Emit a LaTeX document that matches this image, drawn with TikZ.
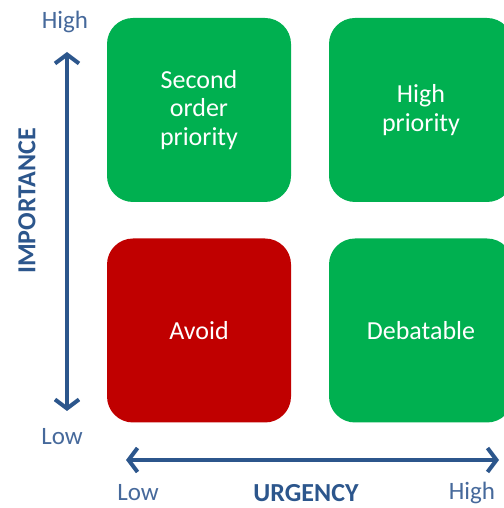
\documentclass[tikz,border=0pt]{standalone}
\usepackage{fontspec}
\setmainfont{Carlito}
\usepackage{tikz}
\usetikzlibrary{arrows.meta,positioning}
\definecolor{boxgreen}{RGB}{0,176,80}
\definecolor{boxred}{RGB}{192,0,0}
\definecolor{axisblue}{RGB}{44,86,140}
\definecolor{labelblue}{RGB}{70,105,155}

\begin{document}
\begin{tikzpicture}[
x=1pt, y=1pt,
quad/.style={
	rectangle, rounded corners=26pt,
	minimum width=184pt, minimum height=184pt,
	text=white, align=center,
	font=\fontsize{26}{28.5}\selectfont
},
axis/.style={
	line width=4pt, draw=axisblue,
	{Straight Barb[length=9pt,width=24pt]}-{Straight Barb[length=9pt,width=24pt]}
},
lab/.style={text=labelblue, font=\fontsize{25}{28}\selectfont, inner sep=0pt},
title/.style={text=axisblue, font=\fontsize{26}{28}\selectfont\bfseries, inner sep=0pt}
]
\useasboundingbox (0,0) rectangle (503,508);
% quadrants
\node[quad, fill=boxgreen] (second) at (199,398) {Second\\order\\priority};
\node[quad, fill=boxgreen] (high) at (421,398) {High\\priority};
\node[quad, fill=boxred] (avoid) at (199,177.5) {Avoid};
\node[quad, fill=boxgreen] (debat) at (421,177.5) {Debatable};
% importance axis
\node[lab] (ihigh) at (65,486) {High};
\node[lab] (ilow) at (62,71) {Low};
\coordinate (itop) at (67,456);
\coordinate (ibot) at (67,97);
\draw[axis] (itop) -- (ibot);
\node[title, rotate=90] (imp) at (27,307) {IMPORTANCE};
% urgency axis
\coordinate (uleft) at (126,48);
\coordinate (uright) at (499,48);
\draw[axis] (uleft) -- (uright);
\node[lab] (ulow) at (138,15) {Low};
\node[title] (urg) at (306,15) {URGENCY};
\node[lab] (uhigh) at (472,15) {High};
\end{tikzpicture}
\end{document}
